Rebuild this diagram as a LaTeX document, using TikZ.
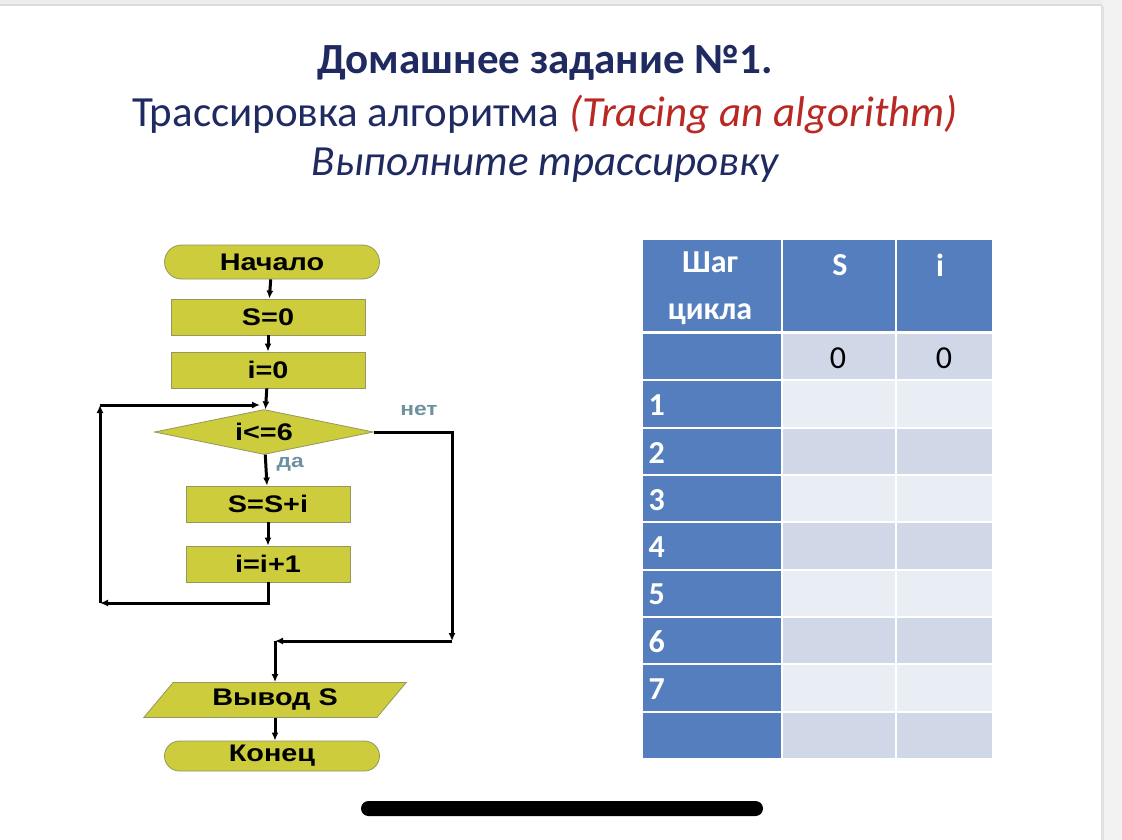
\documentclass[tikz,border=0pt]{standalone}
\usepackage{fontspec}
\setmainfont{Carlito}
\newfontfamily\fcfont[FakeStretch=1.2]{Liberation Sans}
\usetikzlibrary{shapes.geometric,shapes.misc,arrows.meta,positioning}
\definecolor{navy}{RGB}{31,42,96}
\definecolor{redtitle}{RGB}{185,40,35}
\definecolor{olivefill}{RGB}{204,204,60}
\definecolor{olivebd}{RGB}{150,150,95}
\definecolor{labgray}{RGB}{110,145,160}
\definecolor{tblue}{RGB}{84,126,190}
\definecolor{tlight}{RGB}{233,237,244}
\definecolor{tdark}{RGB}{208,216,232}
\tikzset{
  term/.style={rounded rectangle, draw=olivebd, fill=olivefill, thick,
    minimum width=215pt, minimum height=34pt, inner sep=0pt, font=\fcfont\bfseries\fontsize{24}{26}\selectfont},
  actbox/.style={rectangle, draw=olivebd, fill=olivefill, thick,
    minimum height=36pt, inner sep=0pt, font=\fcfont\bfseries\fontsize{24}{26}\selectfont},
  cond/.style={diamond, aspect=4.8, draw=olivebd, fill=olivefill, thick,
    minimum width=219pt, minimum height=45pt, inner sep=0pt, font=\fcfont\bfseries\fontsize{24}{26}\selectfont},
  iobox/.style={trapezium, trapezium left angle=50, trapezium right angle=130, draw=olivebd, fill=olivefill, thick,
    minimum width=254pt, minimum height=35pt, inner sep=0pt, font=\fcfont\bfseries\fontsize{24}{26}\selectfont},
  flow/.style={draw=black, line width=3pt, -{Latex[length=8pt,width=7pt]}},
  lab/.style={text=labgray, font=\fcfont\bfseries\fontsize{19}{21}\selectfont},
  hdr/.style={text=white, font=\bfseries\fontsize{32}{47}\selectfont, align=center},
  num/.style={text=white, font=\bfseries\fontsize{32}{36}\selectfont, anchor=west},
  val/.style={text=black, font=\fontsize{32}{36}\selectfont}
}
\begin{document}
\begin{tikzpicture}[x=1pt,y=-1pt]
\useasboundingbox (0,0) rectangle (1122,840);
% page
\fill[white] (0,0) rectangle (1122,840);
\fill[black!5] (1102,0) rectangle (1122,840);
\fill[black!12] (1101,6) rectangle (1104,840);
\fill[black!7] (0,0) rectangle (1102,4);
\fill[black!14] (0,4) rectangle (1102,6);
% titles
\node[text=navy, font=\bfseries\fontsize{43}{46}\selectfont] (t1) at (545,63) {Домашнее задание №1.};
\node[text=navy, font=\fontsize{43}{46}\selectfont] (t2) at (545,114) {Трассировка алгоритма \textcolor{redtitle}{\itshape(Tracing an algorithm)}};
\node[text=navy, font=\itshape\fontsize{43}{46}\selectfont] (t3) at (545,165) {Выполните трассировку};
% flowchart
\node[term] (start) at (272,262) {Начало};
\node[actbox, minimum width=194pt] (s0) at (268,317) {S=0};
\node[actbox, minimum width=194pt] (i0) at (268,370) {i=0};
\node[cond] (test) at (264,432) {i<=6};
\node[actbox, minimum width=164pt] (sum) at (268,504) {S=S+i};
\node[actbox, minimum width=164pt] (inc) at (268,564) {i=i+1};
\node[iobox] (out) at (275,700) {Вывод S};
\node[term, minimum height=30pt] (stop) at (272,756) {Конец};
\coordinate (lb) at (100,603);
\coordinate (lt) at (100,405);
\coordinate (jn) at (260,405);
\coordinate (rt) at (452,641);
\coordinate (mj) at (275,641);
\draw[flow] (start) -- (s0);
\draw[flow] (s0) -- (i0);
\draw[flow] (i0) -- (test);
\draw[flow] (test) -- node[lab, right=6pt, pos=0.3] (yes) {да} (sum);
\draw[flow] (sum) -- (inc);
\draw[flow] (inc.south) |- (lb);
\draw[flow] (lb) -- (lt);
\draw[flow] (lt) -- (jn);
\draw[flow] (test.east) -| (rt);
\draw[flow] (rt) -- (mj);
\draw[flow] (mj) -- (out.north -| mj);
\draw[flow] (out.south -| mj) -- (stop.north -| mj);
\node[lab] (no) at (419,410) {нет};
% table
\fill[tblue] (643,240) rectangle (781,331);
\fill[tblue] (783,240) rectangle (895,331);
\fill[tblue] (897,240) rectangle (992,331);
\foreach \k in {0,...,8}{
  \pgfmathsetmacro{\ytop}{334+47.33*\k}
  \pgfmathsetmacro{\ybot}{\ytop+45.3}
  \pgfmathparse{int(mod(\k,2))}
  \ifnum\pgfmathresult=0 \def\cellc{tdark}\else\def\cellc{tlight}\fi
  \fill[tblue] (643,\ytop) rectangle (781,\ybot);
  \fill[\cellc] (783,\ytop) rectangle (895,\ybot);
  \fill[\cellc] (897,\ytop) rectangle (992,\ybot);
}
\node[hdr] (hstep) at (710,288) {Шаг\\цикла};
\node[hdr] (hs) at (840,265) {S};
\node[hdr] (hi) at (940,265) {i};
\node[val] (s00) at (838,358) {0};
\node[val] (i00) at (944,358) {0};
\foreach \k in {1,...,7}{
  \node[num] (n\k) at (645,{358+47.33*\k}) {\k};
}
% home bar
\fill[black, rounded corners=7.5pt] (361,801) rectangle (763,816);
\end{tikzpicture}
\end{document}
